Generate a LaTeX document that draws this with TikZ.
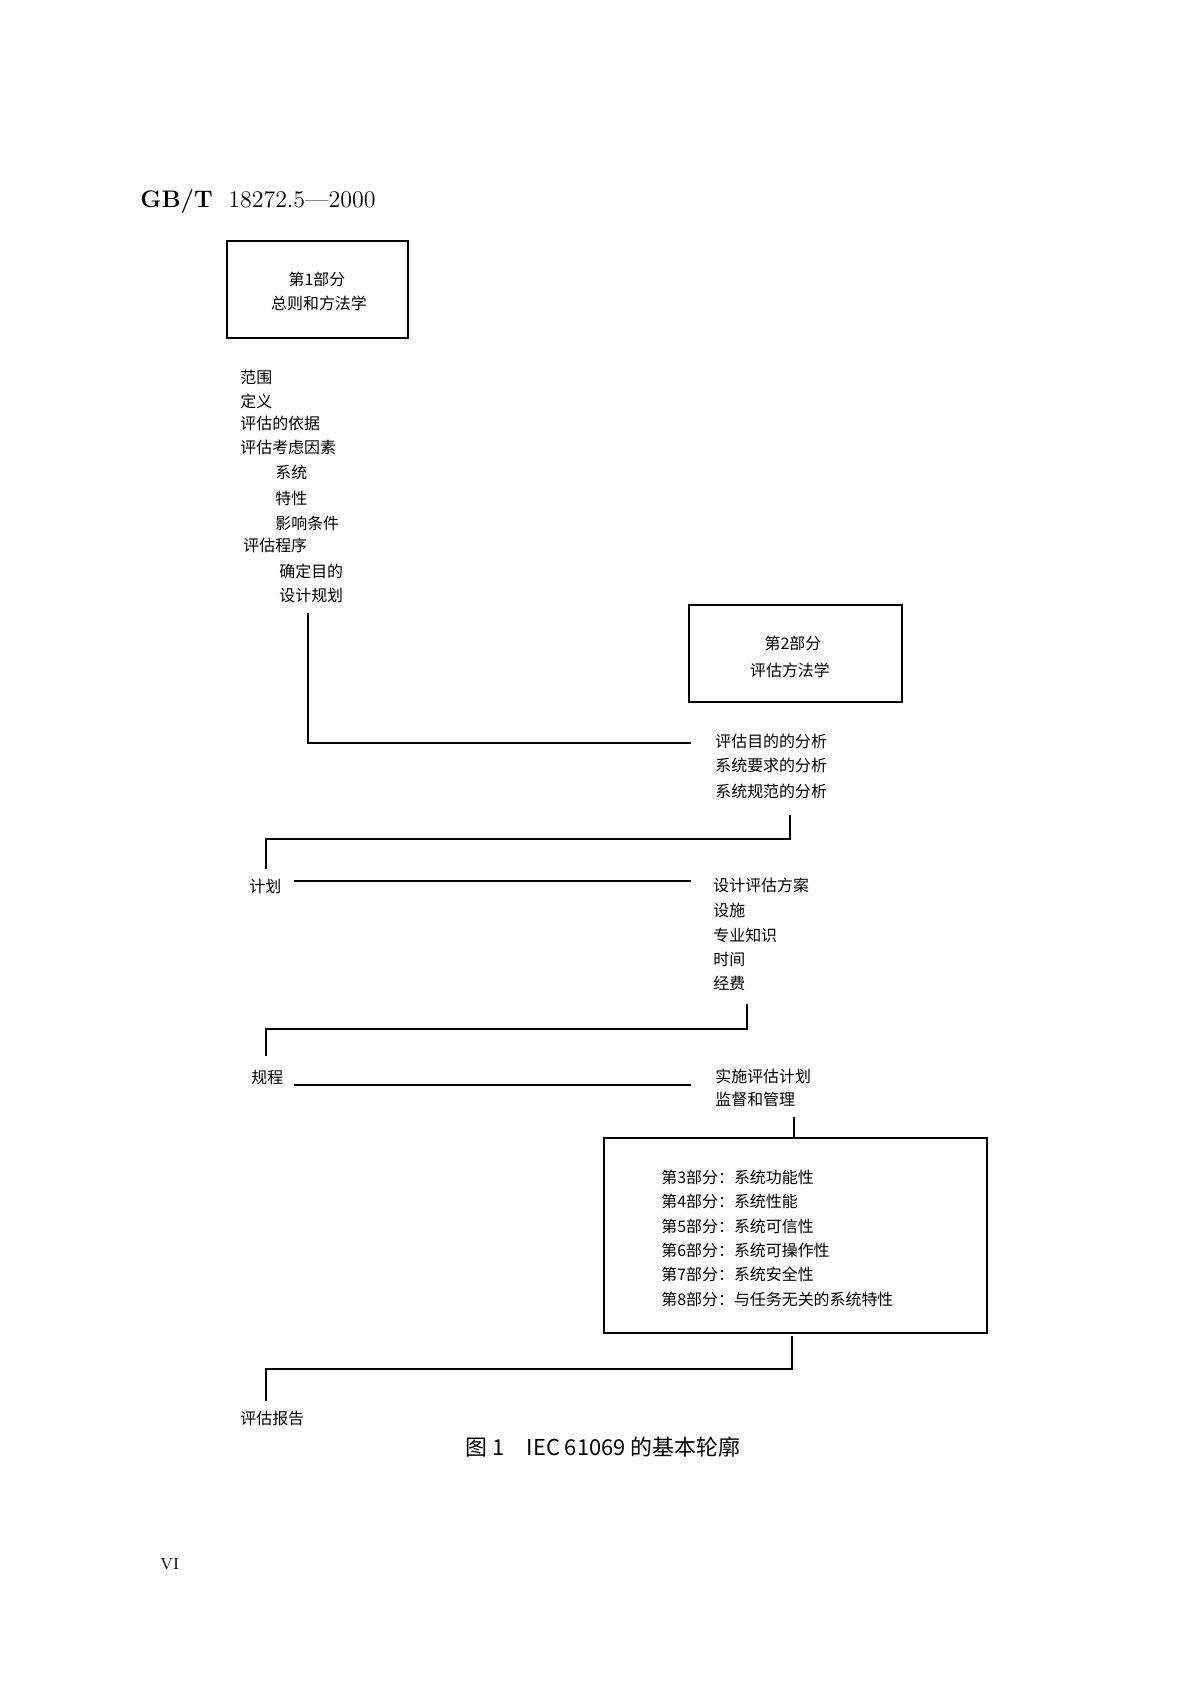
\documentclass[tikz,border=0pt]{standalone}
\usepackage{fontspec}
\newfontfamily\cjk{Noto Sans CJK SC}
\begin{document}
\begin{tikzpicture}[x=0.1764mm,y=-0.1764mm,
  t/.style={anchor=west,inner sep=0,font=\cjk\fontsize{8}{9}\selectfont},
  c/.style={anchor=center,inner sep=0,font=\cjk\fontsize{8}{9}\selectfont},
  bx/.style={draw,line width=0.9pt},
  ln/.style={line width=0.7pt}]
\useasboundingbox (0,0) rectangle (1191,1684);
\node[anchor=west,inner sep=0,font=\fontsize{12}{14}\selectfont] (hdr) at (140,202) {\textbf{GB/T}\ \ 18272.5—2000};
\node[bx,minimum width=181*0.1764mm,minimum height=97*0.1764mm] (b1) at (317.5,289.5) {};
\node[c] (b1a) at (317,279) {第1部分};
\node[c] (b1b) at (319,303) {总则和方法学};
\node[t] (l1) at (240,377) {范围};
\node[t] (l2) at (240,401) {定义};
\node[t] (l3) at (240,423) {评估的依据};
\node[t] (l4) at (240,447) {评估考虑因素};
\node[t] (l5) at (275,472) {系统};
\node[t] (l6) at (275,498) {特性};
\node[t] (l7) at (275,523) {影响条件};
\node[t] (l8) at (243,545) {评估程序};
\node[t] (l9) at (279,571) {确定目的};
\node[t] (l10) at (279,595) {设计规划};
\node[bx,minimum width=213*0.1764mm,minimum height=97*0.1764mm] (b2) at (795.5,653.5) {};
\node[c] (b2a) at (793,643) {第2部分};
\node[c] (b2b) at (790,670) {评估方法学};
\node[t] (m1) at (715,741) {评估目的的分析};
\node[t] (m2) at (715,765) {系统要求的分析};
\node[t] (m3) at (715,791) {系统规范的分析};
\coordinate (p1) at (308,613);
\coordinate (p2) at (691,743);
\draw[ln] (p1) |- (p2);
\coordinate (q1) at (790,815);
\coordinate (q2) at (266,869);
\draw[ln] (q1) -- (790,839) -| (q2);
\node[t] (jh) at (249,886) {计划};
\node[t] (n1) at (713,885) {设计评估方案};
\node[t] (n2) at (713,910) {设施};
\node[t] (n3) at (713,935) {专业知识};
\node[t] (n4) at (713,959) {时间};
\node[t] (n5) at (713,983) {经费};
\coordinate (h1) at (294,881);
\coordinate (h2) at (691,881);
\draw[ln] (h1) -- (h2);
\coordinate (r1) at (747,1004);
\coordinate (r2) at (266,1056);
\draw[ln] (r1) -- (747,1029) -| (r2);
\node[t] (gc) at (251,1078) {规程};
\coordinate (h3) at (294,1085);
\coordinate (h4) at (691,1085);
\draw[ln] (h3) -- (h4);
\node[t] (o1) at (715,1076) {实施评估计划};
\node[t] (o2) at (715,1099) {监督和管理};
\node[bx,minimum width=383*0.1764mm,minimum height=195*0.1764mm] (b3) at (795.5,1235.5) {};
\coordinate (s1) at (794,1117);
\draw[ln] (s1) -- (b3.north -| s1);
\node[t] (k1) at (661,1177) {第3部分：系统功能性};
\node[t] (k2) at (661,1201) {第4部分：系统性能};
\node[t] (k3) at (661,1226) {第5部分：系统可信性};
\node[t] (k4) at (661,1250) {第6部分：系统可操作性};
\node[t] (k5) at (661,1274) {第7部分：系统安全性};
\node[t] (k6) at (661,1299) {第8部分：与任务无关的系统特性};
\coordinate (u1) at (792,1336);
\coordinate (u2) at (266,1401);
\draw[ln] (u1) -- (792,1369) -| (u2);
\node[t] (rep) at (240,1418) {评估报告};
\node[anchor=center,inner sep=0,font=\cjk\fontsize{11}{13}\selectfont] (cap) at (603,1447) {图 1\quad IEC 61069 的基本轮廓};
\node[anchor=west,inner sep=0,font=\fontsize{8}{9}\selectfont] (pg) at (160,1564) {VI};
\end{tikzpicture}
\end{document}
